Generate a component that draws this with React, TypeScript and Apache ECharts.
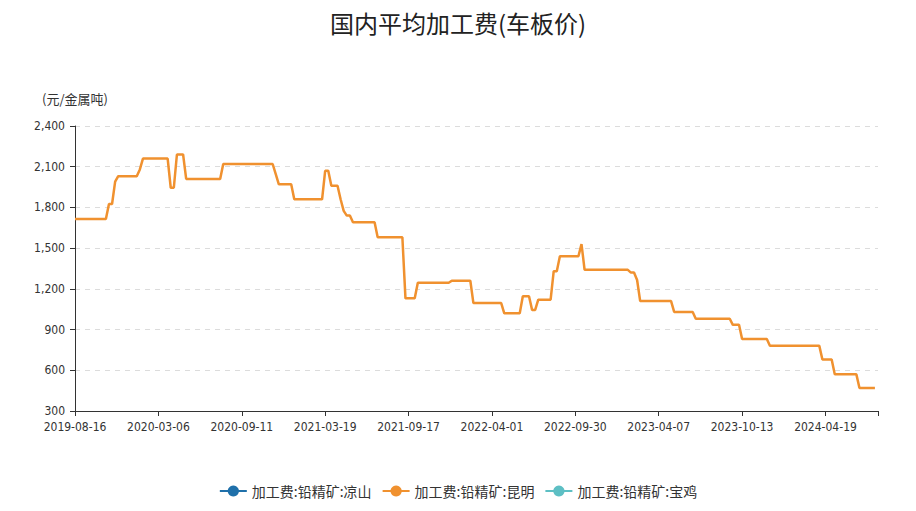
import React, { useEffect, useRef } from "react";
import * as echarts from "echarts";

// ---- Data ----
const titleText = "国内平均加工费(车板价)";
const unitName = "(元/金属吨)";
const seriesNames = ["加工费:铅精矿:凉山", "加工费:铅精矿:昆明", "加工费:铅精矿:宝鸡"];
const seriesColors = ["#1f70aa", "#f0912f", "#5dbfc4"];

// Weekly (Friday) report dates, with holiday weeks skipped and extra report dates added
const firstDate = "2019-08-16";
const lastDate = "2024-08-16";
const skippedDates = ["2020-01-24", "2020-01-31", "2022-02-04"];
const extraDates = ["2021-04-29", "2022-06-02"];

// 昆明: step levels and how many report dates each level lasts
const kunmingLevels = [
  1715, 1825, 1990, 2030, 2080, 2160, 1945, 2190, 2010, 2120, 2045, 1970, 1860, 2070, 1960, 1860,
  1775, 1740, 1690, 1580, 1130, 1245, 1260, 1095, 1020, 1145, 1045, 1120, 1330, 1440, 1530, 1340,
  1320, 1265, 1110, 1030, 980, 935, 830, 780, 680, 570, 470,
];
const kunmingWeeks = [
  11, 2, 1, 7, 1, 9, 2, 3, 12, 17, 1, 5, 10, 2, 3, 1,
  1, 2, 8, 9, 4, 11, 7, 10, 6, 3, 2, 5, 2, 7, 1, 15,
  2, 1, 11, 7, 12, 3, 9, 17, 4, 8, 6,
];
const liangshanValues: (number | null)[] = [];
const baojiValues: (number | null)[] = [];

const yMin = 300;
const yMax = 2400;
const yInterval = 300;
const xLabelEvery = 27;

// ---- Build categories and series from the arrays above ----
function buildDates(): string[] {
  const out: string[] = [];
  const start = new Date(firstDate + "T00:00:00Z").getTime();
  const end = new Date(lastDate + "T00:00:00Z").getTime();
  const day = 86400000;
  for (let t = start; t <= end; t += 7 * day) {
    const s = new Date(t).toISOString().slice(0, 10);
    if (!skippedDates.includes(s)) out.push(s);
  }
  extraDates.forEach((d) => out.push(d));
  out.sort();
  return out;
}

function expand(levels: number[], counts: number[]): number[] {
  const out: number[] = [];
  levels.forEach((v, i) => {
    for (let k = 0; k < counts[i]; k++) out.push(v);
  });
  return out;
}

export default function App() {
  const ref = useRef<HTMLDivElement>(null);

  useEffect(() => {
    if (!ref.current) return;
    const chart = echarts.init(ref.current, undefined, { renderer: "svg" });
    const dates = buildDates();
    const kunming: (number | null)[] = expand(kunmingLevels, kunmingWeeks);
    while (kunming.length < dates.length) kunming.push(null);
    const lastIdx = dates.length - 1;
    const labelFont = "'DejaVu Sans Condensed', 'Liberation Sans', sans-serif";
    const cjkFont = "'Noto Sans CJK SC', sans-serif";

    const mk = (name: string, color: string, data: (number | null)[]) => ({
      name,
      type: "line",
      data,
      color,
      symbol: "circle",
      symbolSize: 9,
      showSymbol: false,
      connectNulls: false,
      lineStyle: { width: 2.5, color },
      itemStyle: { color },
    });

    chart.setOption({
      animation: false,
      backgroundColor: "#ffffff",
      title: {
        text: titleText,
        left: "center",
        top: 5,
        textStyle: {
          fontSize: 24,
          fontWeight: "normal",
          color: "#222",
          fontFamily: cjkFont,
        },
      },
      legend: {
        bottom: 8,
        left: "center",
        itemWidth: 27,
        itemHeight: 14,
        itemGap: 10,
        textStyle: { fontSize: 14, color: "#333", fontFamily: cjkFont },
        data: seriesNames,
      },
      grid: { left: 75, right: 38, top: 126, bottom: 100, containLabel: false },
      xAxis: {
        type: "category",
        data: dates,
        boundaryGap: false,
        axisLine: { lineStyle: { color: "#333", width: 1 } },
        axisTick: {
          show: true,
          length: 5,
          lineStyle: { color: "#333" },
          interval: (i: number) => i % xLabelEvery === 0 || i === lastIdx,
        },
        axisLabel: {
          interval: (i: number) => i % xLabelEvery === 0,
          color: "#333",
          fontSize: 12,
          fontFamily: labelFont,
          margin: 10,
        },
        splitLine: { show: false },
      },
      yAxis: {
        type: "value",
        min: yMin,
        max: yMax,
        interval: yInterval,
        name: unitName,
        nameLocation: "end",
        nameGap: 21,
        nameTextStyle: { fontSize: 13, color: "#333", fontFamily: cjkFont, align: "center" },
        axisLine: { show: true, lineStyle: { color: "#333", width: 1 } },
        axisTick: { show: true, length: 5, lineStyle: { color: "#333" } },
        axisLabel: {
          color: "#333",
          fontSize: 12,
          fontFamily: labelFont,
          margin: 10,
          formatter: (v: number) => v.toLocaleString("en-US"),
        },
        splitLine: { show: true, lineStyle: { color: "#dcdcdc", type: [5, 5] } },
      },
      series: [
        mk(seriesNames[0], seriesColors[0], liangshanValues),
        mk(seriesNames[1], seriesColors[1], kunming),
        mk(seriesNames[2], seriesColors[2], baojiValues),
      ],
    });

    return () => chart.dispose();
  }, []);

  return (
    <div
      ref={ref}
      style={{ position: "fixed", left: 0, top: 0, width: 916, height: 511 }}
    />
  );
}
